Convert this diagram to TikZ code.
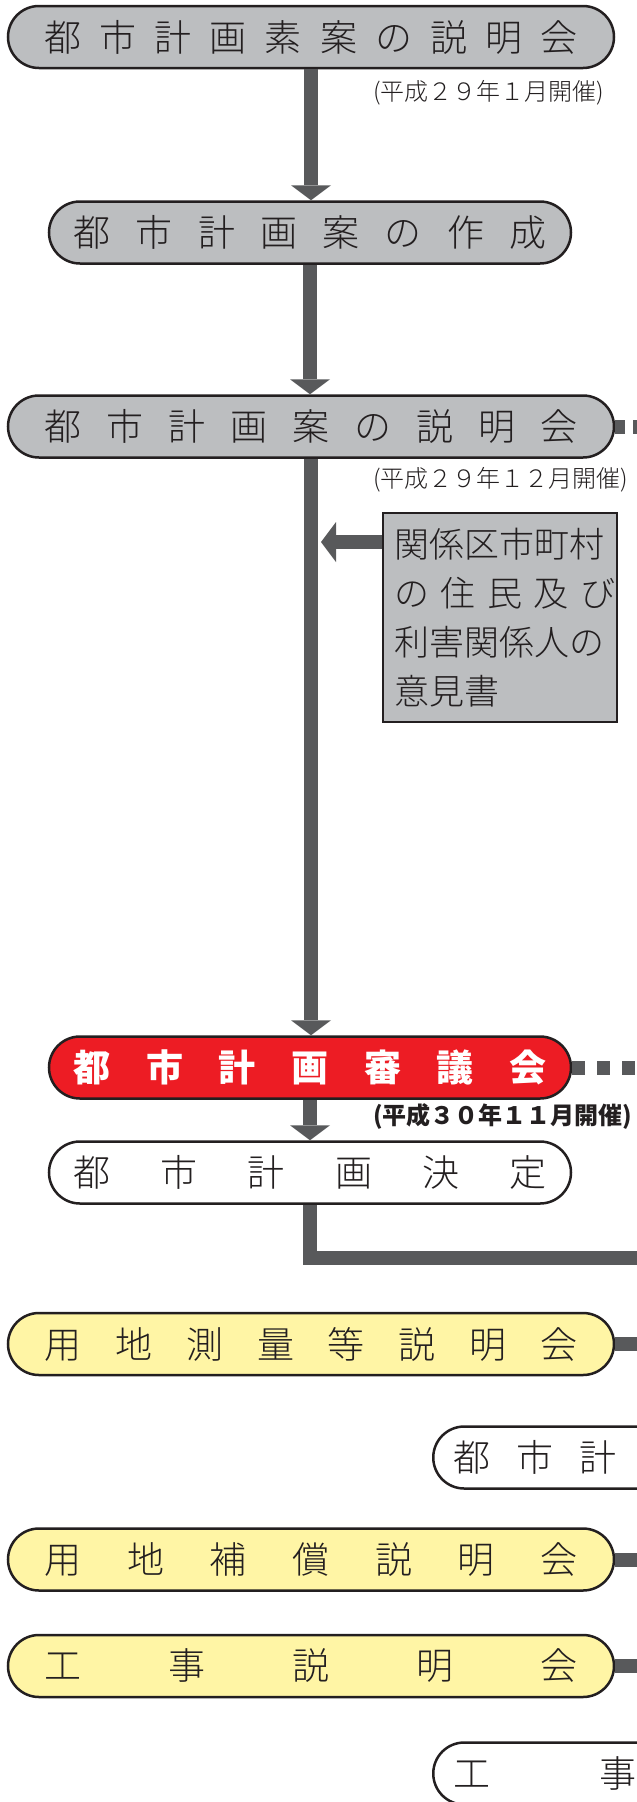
\documentclass[tikz,border=0pt]{standalone}
\usepackage{fontspec}
\setmainfont{Noto Sans CJK JP}
\IfFontExistsTF{Noto Sans CJK JP Light}
  {\newfontfamily\lightjp{Noto Sans CJK JP Light}}
  {\IfFontExistsTF{Noto Sans CJK JP DemiLight}
    {\newfontfamily\lightjp{Noto Sans CJK JP DemiLight}}
    {\newcommand{\lightjp}{\relax}}}
\usepackage{xcolor}
\usetikzlibrary{positioning,shapes.misc,arrows.meta}
\definecolor{boxgray}{HTML}{BCBEC0}
\definecolor{linegray}{HTML}{58595B}
\definecolor{planred}{HTML}{ED1C24}
\definecolor{planyellow}{HTML}{FFF5A5}
\definecolor{inkblack}{HTML}{231F20}
\newcommand{\spreadtext}[2]{\makebox[#1][s]{#2}}
\tikzset{
  stage/.style={rounded rectangle, draw=inkblack, line width=2.5pt, minimum height=62pt,
    inner sep=0pt, text=inkblack, font=\fontsize{37}{37}\lightjp},
  wide/.style={stage, minimum width=606pt},
  narrow/.style={stage, minimum width=522pt},
  flow/.style={draw=linegray, line width=14pt},
  flowarrow/.style={flow, -{Triangle[length=15pt,width=40pt,line width=0pt]}},
  flowdash/.style={flow, dash pattern=on 13pt off 12pt},
  datetext/.style={inner sep=0pt, text=inkblack, anchor=west, font=\fontsize{24}{24}\lightjp}
}

\begin{document}
\begin{tikzpicture}[x=1pt,y=-1pt]
\useasboundingbox (0,0) rectangle (637,1802);
\clip (0,0) rectangle (637,1802);
\coordinate (edge) at (645,0);

% Explanation and draft
\node[wide, fill=boxgray] (soan) at (311,37) {\spreadtext{533pt}{都 市 計 画 素 案 の 説 明 会}};
\node[datetext] (soandate) at (373,93) {(平成２９年１月開催)};
\node[narrow, fill=boxgray] (sakusei) at (310,232.5) {\spreadtext{473pt}{都 市 計 画 案 の 作 成}};
\node[wide, fill=boxgray] (anset) at (311,426.5) {\spreadtext{533pt}{都 市 計 画 案 の 説 明 会}};
\node[datetext] (ansetdate) at (373,480) {(平成２９年１２月開催)};

% Written opinions
\node[draw=inkblack, line width=2pt, fill=boxgray, minimum width=234pt, minimum height=209pt,
  text width=212pt, align=left, inner sep=0pt, text=inkblack, font=\fontsize{35}{49}\lightjp]
  (iken) at (500,617.5) {\spreadtext{210pt}{関係区市町村}\\\spreadtext{210pt}{の 住 民 及 び}\\\spreadtext{210pt}{利害関係人の}\\意見書};

% Council and decision
\node[narrow, fill=planred, text=white, font=\fontsize{37}{37}\selectfont\bfseries] (shingi) at (310,1067.5)
  {\spreadtext{473pt}{都 市 計 画 審 議 会}};
\node[datetext, font=\fontsize{24}{24}\selectfont\bfseries] (shingidate) at (373,1116)
  {(平成３０年１１月開催)};
\node[narrow, fill=white] (kettei) at (310,1172.5) {\spreadtext{473pt}{都 市 計 画 決 定}};

% Land and works meetings
\node[wide, fill=planyellow] (sokuryo) at (311,1344) {\spreadtext{533pt}{用 地 測 量 等 説 明 会}};
\node[stage, fill=white, anchor=west] (jigyo) at (432,1457.5)
  {\makebox[500pt][l]{\hspace{15pt}都\hspace{26pt}市\hspace{26pt}計}};
\node[wide, fill=planyellow] (hosho) at (311,1559.5) {\spreadtext{533pt}{用 地 補 償 説 明 会}};
\node[wide, fill=planyellow] (koji) at (311,1666) {\spreadtext{533pt}{工 事 説 明 会}};
\node[stage, fill=white, anchor=west] (kojiend) at (432,1773.5)
  {\makebox[500pt][l]{\hspace{15pt}工\hspace{109pt}事}};

% Connectors
\coordinate (ikenpin) at (321,542);
\draw[flowarrow] (soan.south) -- (soan.south |- sakusei.north);
\draw[flowarrow] (sakusei.south) -- (sakusei.south |- anset.north);
\draw[flowarrow] (anset.south) -- (anset.south |- shingi.north);
\draw[flowarrow] ([yshift=75.5pt]iken.west) -- (ikenpin);
\draw[flowarrow] (shingi.south) -- (shingi.south |- kettei.north);
\draw[flow] (kettei.south) |- (edge |- 0,1258);
\draw[flowdash, dash pattern=on 10pt off 8pt] (anset.east) -- (anset.east -| edge);
\draw[flowdash] (shingi.east) -- (shingi.east -| edge);
\foreach \n in {sokuryo,hosho,koji}
  \draw[flow] (\n.east) -- (\n.east -| edge);

\end{tikzpicture}
\end{document}
